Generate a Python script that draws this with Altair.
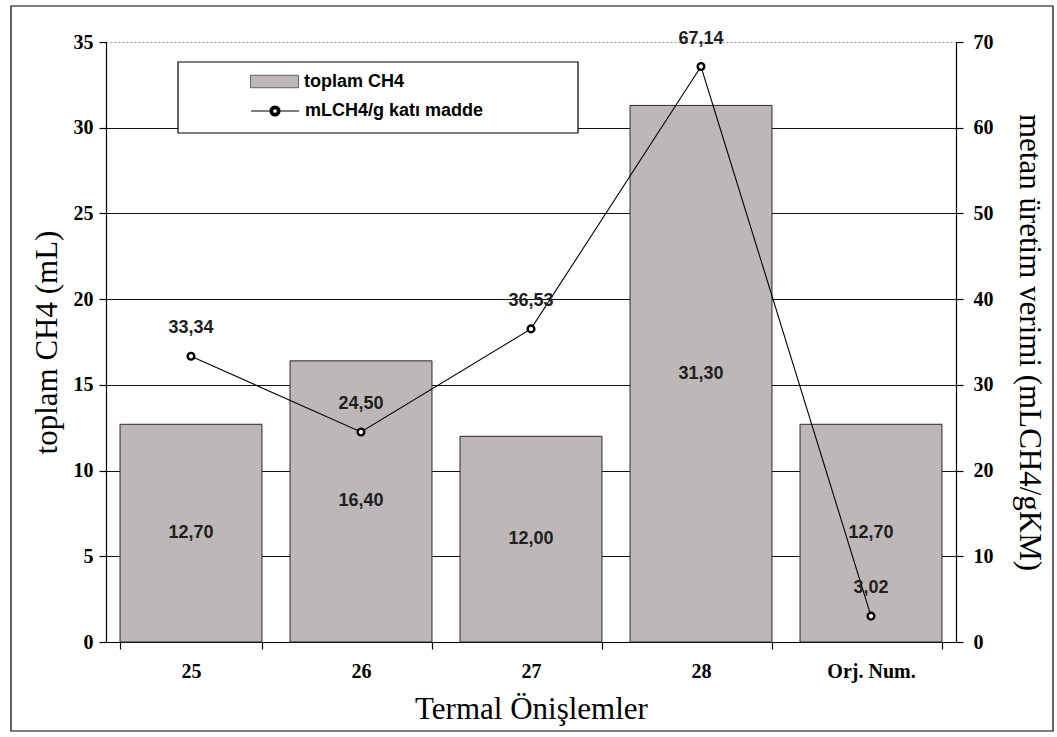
import altair as alt
import pandas as pd

# Thermal pretreatment groups and measured values
categories = ["25", "26", "27", "28", "Orj. Num."]
toplam_ch4 = [12.70, 16.40, 12.00, 31.30, 12.70]          # mL
verim = [33.34, 24.50, 36.53, 67.14, 3.02]                # mLCH4/gKM

left_ticks = [0, 5, 10, 15, 20, 25, 30, 35]
right_ticks = [0, 10, 20, 30, 40, 50, 60, 70]

series_bar = "toplam CH4"
series_line = "mLCH4/g katı madde"

df = pd.DataFrame({"grup": categories, "toplam": toplam_ch4, "verim": verim})

SERIF = "Liberation Serif"
SANS = "Liberation Sans"
W, H = 850, 600
PAD = {"left": 106, "top": 42, "right": 1057 - 106 - W, "bottom": 737 - 42 - H}

comma = "replace(format({f}, '.2f'), '.', ',')"

x_enc = alt.X(
    "grup:N",
    sort=categories,
    scale=alt.Scale(paddingInner=0.165, paddingOuter=0.0825),
    axis=alt.Axis(
        title="Termal Önişlemler",
        labelAngle=0,
        tickBand="extent",
        tickSize=7,
        labelPadding=12,
        titlePadding=13,
        grid=False,
    ),
)

left_axis = alt.Axis(
    title="toplam CH4 (mL)",
    values=left_ticks,
    tickSize=7,
    labelPadding=6,
    titlePadding=10,
    grid=True,
    gridColor={"condition": {"test": "datum.value === 35", "value": "#9a9a9a"}, "value": "#111111"},
    gridDash={"condition": {"test": "datum.value === 35", "value": [2, 2]}, "value": []},
)
right_axis = alt.Axis(
    title="metan üretim verimi (mLCH4/gKM)",
    orient="right",
    values=right_ticks,
    tickSize=7,
    labelPadding=10,
    titlePadding=19,
    grid=False,
)
left_scale = alt.Scale(domain=[0, 35], nice=False)
right_scale = alt.Scale(domain=[0, 70], nice=False)

# legend symbols: wide swatch, and a line with a ring marker
swatch_path = "M-2,-0.52H2V0.52H-2Z"
line_marker_path = (
    "M-2,0H-0.42M0.42,0H2"
    "M0.42,0A0.42,0.42 0 1,0 -0.42,0A0.42,0.42 0 1,0 0.42,0Z"
    "M0.2,0A0.2,0.2 0 1,1 -0.2,0A0.2,0.2 0 1,1 0.2,0Z"
)
legend_common = dict(
    orient="none",
    title=None,
    padding=0,
    symbolSize=576,
    labelFont=SANS,
    labelFontSize=18,
    labelFontWeight="bold",
    labelColor="black",
    labelOffset=17,
    labelLimit=0,
)

base = alt.Chart(df)

# outer frame around the figure and the legend box
frame = alt.Chart(alt.Data(values=[{"k": 1}])).mark_rect(
    fill=None, stroke="black", strokeWidth=1.2
).encode(
    x=alt.value(11 - PAD["left"]), x2=alt.value(1053 - PAD["left"]),
    y=alt.value(6 - PAD["top"]), y2=alt.value(731 - PAD["top"]),
)
legend_box = alt.Chart(alt.Data(values=[{"k": 1}])).mark_rect(
    fill="white", stroke="black", strokeWidth=1.2
).encode(
    x=alt.value(178 - PAD["left"]), x2=alt.value(578 - PAD["left"]),
    y=alt.value(62 - PAD["top"]), y2=alt.value(133 - PAD["top"]),
)

bars = base.transform_calculate(seri=f"'{series_bar}'").mark_bar(
    stroke="#2a2a2a", strokeWidth=1
).encode(
    x=x_enc,
    y=alt.Y("toplam:Q", scale=left_scale, axis=left_axis),
    fill=alt.Fill(
        "seri:N",
        scale=alt.Scale(domain=[series_bar], range=["#bdb7b8"]),
        legend=alt.Legend(
            legendX=156, legendY=27, symbolType=swatch_path,
            symbolStrokeColor="#444", symbolStrokeWidth=0.8, **legend_common
        ),
    ),
)

bar_labels = base.transform_calculate(
    mid="datum.toplam / 2", lbl=comma.format(f="datum.toplam")
).mark_text(font=SANS, fontSize=18, fontWeight="bold", color="#1e1e1e", baseline="middle").encode(
    x=x_enc,
    y=alt.Y("mid:Q", scale=left_scale, axis=left_axis),
    text="lbl:N",
)

left_layer = alt.layer(frame, bars, bar_labels, legend_box)

y_right = alt.Y("verim:Q", scale=right_scale, axis=right_axis)

line = base.transform_calculate(seri2=f"'{series_line}'").mark_line(strokeWidth=1.1).encode(
    x=x_enc,
    y=y_right,
    stroke=alt.Stroke(
        "seri2:N",
        scale=alt.Scale(domain=[series_line], range=["black"]),
        legend=alt.Legend(
            legendX=156, legendY=56, symbolType=line_marker_path,
            symbolFillColor="black", symbolStrokeWidth=1.1, **legend_common
        ),
    ),
)
points = base.mark_point(
    filled=True, fill="white", stroke="black", strokeWidth=2.4, size=45, opacity=1
).encode(x=x_enc, y=y_right)

line_labels = base.transform_calculate(lbl=comma.format(f="datum.verim")).mark_text(
    font=SANS, fontSize=18, fontWeight="bold", color="#1e1e1e", baseline="middle", dy=-28
).encode(x=x_enc, y=y_right, text="lbl:N")

right_layer = alt.layer(line, points, line_labels)

chart = (
    alt.layer(left_layer, right_layer)
    .resolve_scale(y="independent")
    .properties(width=W, height=H, padding=PAD, autosize=alt.AutoSizeParams(type="none"), background="white")
    .configure_view(stroke=None)
    .configure_axis(
        domainColor="black", tickColor="black", labelColor="black", titleColor="black",
        domainWidth=1.2, tickWidth=1.2, gridWidth=1,
        labelFont=SERIF, labelFontSize=20, labelFontWeight="bold",
        titleFont=SERIF, titleFontSize=31, titleFontWeight="normal",
    )
)

chart.save("out.html", embed_options={"renderer": "svg", "actions": False})
